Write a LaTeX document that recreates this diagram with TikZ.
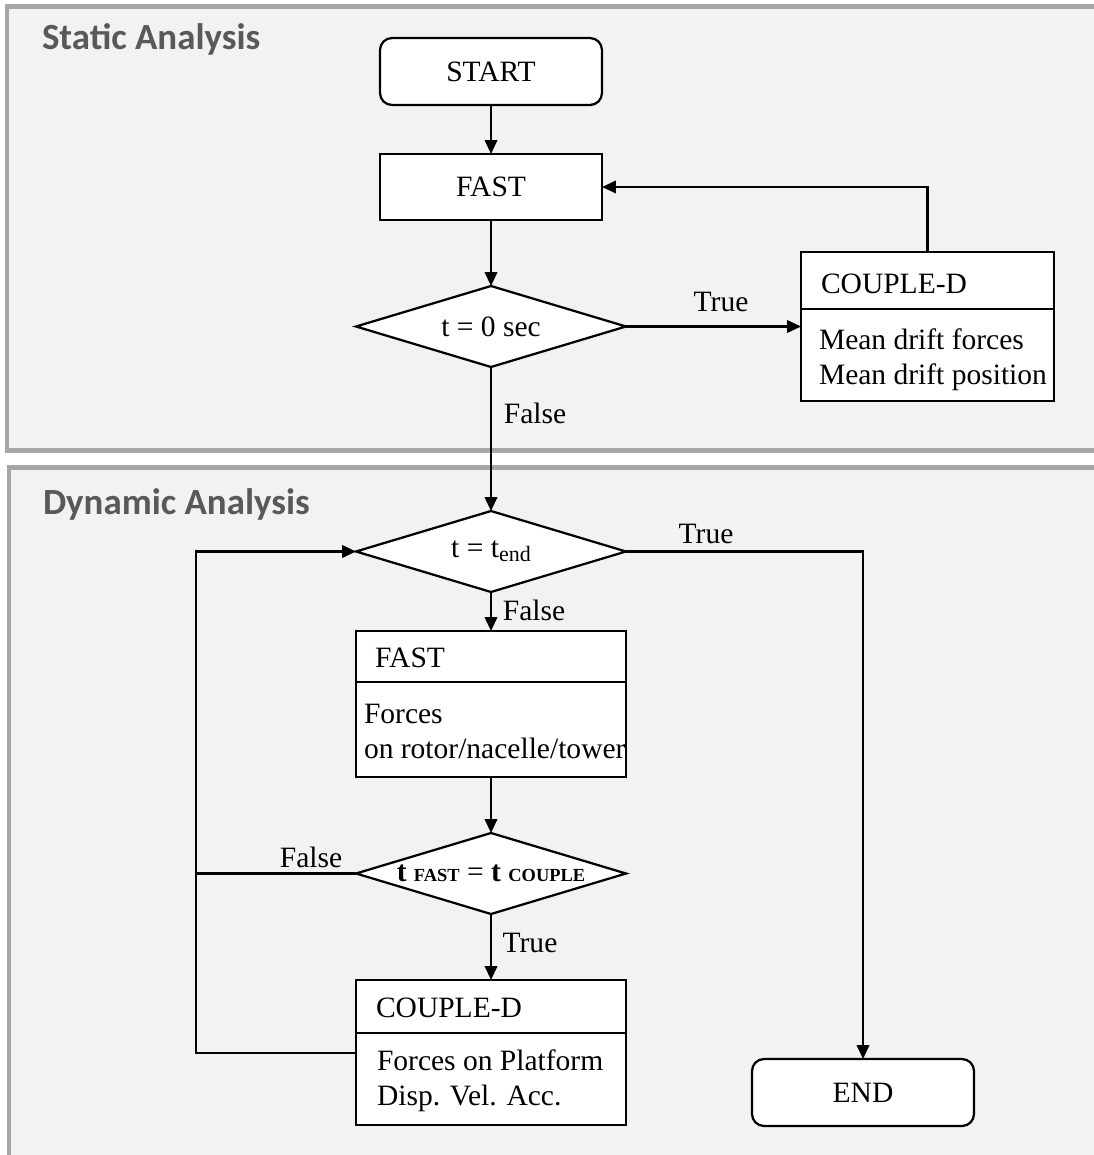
\documentclass[tikz,border=0pt]{standalone}
\usepackage{fontspec}
\setmainfont{Liberation Serif}
\newfontfamily\panelfont{Carlito}
\usetikzlibrary{shapes.geometric,arrows.meta}
\definecolor{panelfill}{HTML}{F2F2F2}
\definecolor{panelline}{HTML}{A6A6A6}
\definecolor{paneltext}{HTML}{595959}

\begin{document}
\begin{tikzpicture}
        [x=0.02cm,y=-0.02cm,
         every node/.style={font=\fontsize{16.8}{19.9}\selectfont,outer sep=0},
         panel/.style={draw=panelline,line width=0.1cm,fill=panelfill},
         paneltitle/.style={font=\panelfont\bfseries\fontsize{21}{25}\selectfont,text=paneltext,anchor=base west,inner sep=0},
         termbox/.style={draw,fill=white,line width=0.045cm,rounded corners=0.24cm,minimum width=4.44cm,minimum height=1.34cm},
         procbox/.style={draw,fill=white,line width=0.045cm,minimum width=4.44cm,minimum height=1.32cm},
         testbox/.style={draw,fill=white,line width=0.045cm,diamond,aspect=3.33,inner sep=0,minimum width=5.4cm,minimum height=1.62cm},
         partbox/.style={draw,fill=white,line width=0.045cm,inner sep=0},
         boxtext/.style={anchor=west,align=left,inner sep=0},
         tag/.style={inner sep=0},
         flow/.style={line width=0.045cm,-{Triangle[length=0.28cm,width=0.25cm]}},
         link/.style={line width=0.045cm}]

        \fill[white] (0,0) rectangle (1094,1155);
        \useasboundingbox (0,0) rectangle (1094,1155);

        % panels
        \draw[panel] (7,6.5) rectangle (1130,450.5);
        \draw[panel] (9,467.5) rectangle (1130,1200);
        \node[paneltitle] (statictitle) at (42,50) {Static Analysis};
        \node[paneltitle] (dynamictitle) at (43,514) {Dynamic Analysis};

        % static part
        \node[termbox] (start) at (491,71.5) {START};
        \node[procbox] (fast0) at (491,187) {FAST};
        \node[testbox] (dec0) at (491,326.5) {t = 0 sec};
        \node[partbox,minimum width=5.06cm,minimum height=1.14cm] (cpl0head) at (927.5,280.5) {};
        \node[partbox,minimum width=5.06cm,minimum height=1.84cm] (cpl0body) at (927.5,355) {};
        \node[boxtext] (cpl0name) at (821,283.5) {COUPLE-D};
        \node[boxtext] (cpl0text) at (819,360) {Mean drift forces\\Mean drift position};

        % dynamic part
        \node[testbox] (decend) at (491,551.5) {t = t\raisebox{-0.3ex}{\fontsize{12.5}{12}\selectfont end}};
        \node[partbox,minimum width=5.4cm,minimum height=1.02cm] (fast1head) at (491,656.5) {};
        \node[partbox,minimum width=5.4cm,minimum height=1.9cm] (fast1body) at (491,729.5) {};
        \node[boxtext] (fast1name) at (375,658) {FAST};
        \node[boxtext] (fast1text) at (364,731.5) {Forces\\on rotor/nacelle/tower};
        \node[testbox] (decsync) at (491,873.5) {\textbf{t} {\fontsize{10.5}{12}\selectfont\bfseries FAST} = \textbf{t} {\fontsize{10.5}{12}\selectfont\bfseries COUPLE}};
        \node[partbox,minimum width=5.4cm,minimum height=1.06cm] (cpl1head) at (491,1006.5) {};
        \node[partbox,minimum width=5.4cm,minimum height=1.84cm] (cpl1body) at (491,1079) {};
        \node[boxtext] (cpl1name) at (376,1008) {COUPLE-D};
        \node[boxtext] (cpl1text) at (377,1081) {Forces on Platform\\Disp. Vel. Acc.};
        \node[termbox] (endbox) at (863,1092.5) {END};
        \coordinate (loopbot) at (196,1053);

        % labels
        \node[tag] (true0) at (721,302) {True};
        \node[tag] (false0) at (535,413) {False};
        \node[tag] (true1) at (706,534) {True};
        \node[tag] (false1) at (534,610) {False};
        \node[tag] (false2) at (311,857) {False};
        \node[tag] (true2) at (530,943) {True};

        \draw[flow] (start) -- (fast0);
        \draw[flow] (fast0) -- (dec0);
        \draw[flow] (dec0.east) -- (dec0.east -| cpl0body.west);
        \draw[flow] (cpl0head.north) |- (fast0.east);
        \draw[flow] (dec0.south) -- (decend.north);
        \draw[flow] (decend.east) -| (endbox.north);
        \draw[flow] (decend) -- (fast1head);
        \draw[flow] (fast1body) -- (decsync);
        \draw[flow] (decsync) -- (cpl1head);
        \draw[link] (decsync.west) -- (decsync.west -| loopbot);
        \draw[flow] (loopbot -| cpl1body.west) -- (loopbot) |- (decend.west);

      \end{tikzpicture}
\end{document}
